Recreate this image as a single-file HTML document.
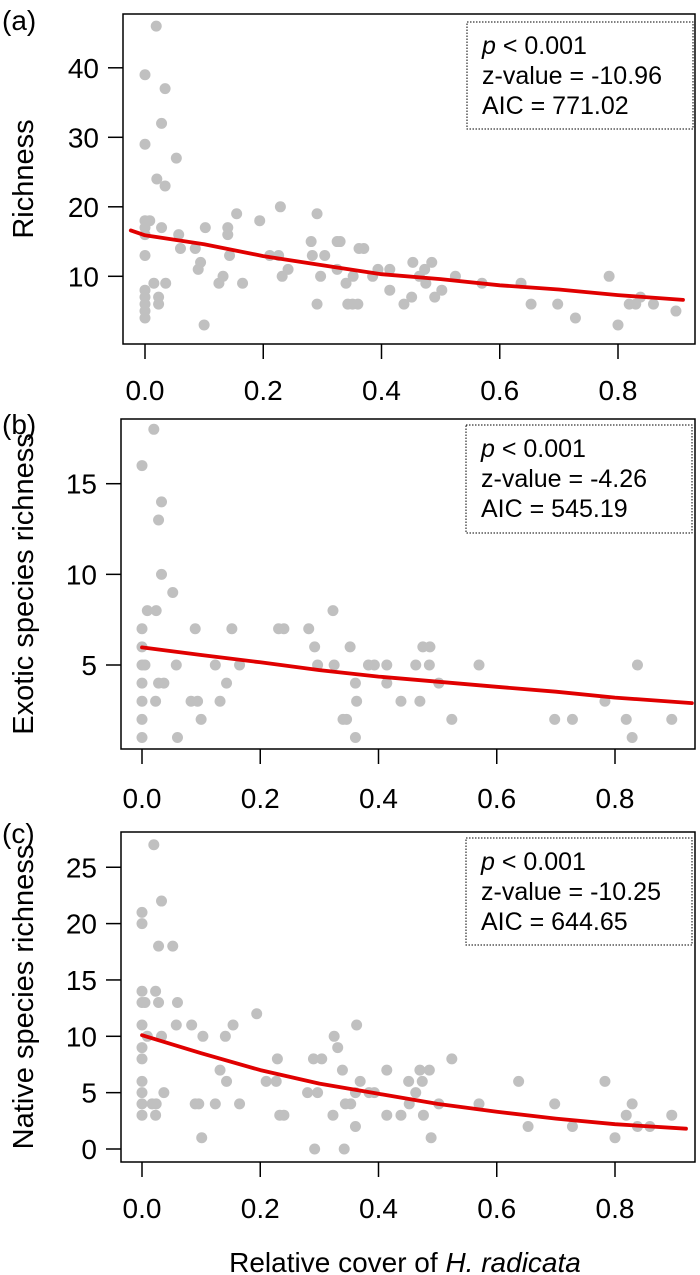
<!DOCTYPE html>
<html><head><meta charset="utf-8"><style>
html,body{margin:0;padding:0;background:#fff;}
svg{display:block;font-family:"Liberation Sans",Arial,sans-serif;}
</style></head><body>
<svg id="fig" width="700" height="1275" viewBox="0 0 700 1275"></svg>
<script>
// Panel (a) Richness
const ax = [0,0,0,0,0,0,0,0,0,0,0,0.019,0.008,0.034,0.028,0.028,0.053,0.02,0.034,0.015,0.023,0.023,0.035,0.057,0.06,0.085,0.094,0.09,0.102,0.1,0.125,0.132,0.14,0.14,0.143,0.155,0.165,0.194,0.211,0.229,0.226,0.232,0.242,0.281,0.283,0.291,0.291,0.297,0.304,0.325,0.33,0.325,0.34,0.343,0.352,0.351,0.36,0.362,0.37,0.385,0.394,0.414,0.414,0.438,0.453,0.451,0.464,0.473,0.475,0.485,0.49,0.502,0.525,0.57,0.636,0.653,0.698,0.728,0.785,0.8,0.819,0.83,0.838,0.86,0.898];
const ay = [39,29,18,17,16,13,8,7,6,5,4,46,18,37,32,17,27,24,23,9,7,6,9,16,14,14,12,11,17,3,9,10,17,16,13,19,9,18,13,20,13,10,11,15,13,19,6,10,13,15,15,11,9,6,10,6,6,14,14,10,11,11,8,6,12,7,10,11,9,12,7,8,10,9,9,6,6,4,10,3,6,6,7,6,5];
const aLineX = [-0.024,0,0.1,0.2,0.3,0.4,0.5,0.6,0.7,0.8,0.91];
const aLineY = [16.6,15.9,14.6,12.9,11.6,10.3,9.6,8.7,8.1,7.3,6.6];
const aTicks = [10,20,30,40];
// Panel (b) Exotic
const bx = [0,0,0,0,0,0,0,0,0.005,0.02,0.009,0.024,0.028,0.033,0.033,0.052,0.028,0.037,0.023,0.058,0.06,0.083,0.09,0.094,0.1,0.124,0.132,0.143,0.152,0.165,0.231,0.24,0.282,0.292,0.297,0.323,0.325,0.34,0.346,0.352,0.361,0.363,0.361,0.383,0.393,0.414,0.414,0.438,0.463,0.47,0.475,0.487,0.486,0.502,0.524,0.57,0.698,0.728,0.783,0.819,0.829,0.838,0.896];
const by = [16,7,6,5,4,3,2,1,5,18,8,8,13,14,10,9,4,4,3,5,1,3,7,3,2,5,3,4,7,5,7,7,7,6,5,8,5,2,2,6,4,3,1,5,5,5,4,3,5,3,6,6,5,4,2,5,2,2,3,2,1,5,2];
const bLineX = [0,0.1,0.2,0.3,0.4,0.5,0.6,0.7,0.8,0.93];
const bLineY = [5.97,5.55,5.15,4.72,4.36,4.08,3.8,3.53,3.2,2.9];
const bTicks = [5,10,15];
// Panel (c) Native
const cx = [0,0,0,0,0,0,0,0,0,0,0,0.005,0.009,0.02,0.023,0.028,0.028,0.033,0.033,0.017,0.024,0.023,0.037,0.052,0.06,0.058,0.084,0.09,0.096,0.103,0.101,0.124,0.132,0.141,0.143,0.154,0.165,0.194,0.21,0.227,0.229,0.233,0.24,0.28,0.29,0.297,0.304,0.292,0.323,0.325,0.331,0.339,0.344,0.353,0.361,0.361,0.363,0.369,0.342,0.384,0.393,0.414,0.414,0.438,0.451,0.452,0.463,0.47,0.474,0.476,0.486,0.489,0.502,0.524,0.57,0.637,0.653,0.698,0.728,0.783,0.8,0.819,0.829,0.838,0.859,0.896];
const cy = [21,20,14,13,11,9,8,6,5,4,3,13,10,27,14,13,18,22,10,4,4,3,5,18,13,11,11,4,4,10,1,4,7,10,6,11,4,12,6,6,8,3,3,5,8,5,8,0,3,10,9,7,4,4,5,2,11,6,0,5,5,7,3,3,6,4,5,7,6,3,7,1,4,8,4,6,2,4,2,6,1,3,4,2,2,3];
const cLineX = [0,0.1,0.2,0.3,0.4,0.5,0.6,0.7,0.8,0.92];
const cLineY = [10.1,8.5,7.0,5.8,4.9,4.0,3.3,2.7,2.2,1.8];
const cTicks = [0,5,10,15,20,25];
const xTicks = [0,0.2,0.4,0.6,0.8];
const xTickLabels = ["0.0","0.2","0.4","0.6","0.8"];

const NS="http://www.w3.org/2000/svg";
const svg=document.getElementById('fig');
function mk(tag,attrs,parent){const e=document.createElementNS(NS,tag);for(const k in attrs)e.setAttribute(k,attrs[k]);(parent||svg).appendChild(e);return e;}

const panels=[
 {id:'a',label:'(a)',lx:2,ly:30,box:[123,14,695,344],x0:145,yf:v=>276.3-(v-10)*6.95,xs:ax,ys:ay,lxs:aLineX,lys:aLineY,ticks:aTicks,title:'Richness',leg:[467,22,693,129],stats:['z-value = -10.96','AIC = 771.02'],tl:390},
 {id:'b',label:'(b)',lx:2,ly:434,box:[121,419,695,749],x0:142,yf:v=>665-(v-5)*18.13,xs:bx,ys:by,lxs:bLineX,lys:bLineY,ticks:bTicks,title:'Exotic species richness',leg:[466,425,692,533],stats:['z-value = -4.26','AIC = 545.19'],tl:798},
 {id:'c',label:'(c)',lx:2,ly:843,box:[121,832,695,1162],x0:142,yf:v=>1149-v*11.27,xs:cx,ys:cy,lxs:cLineX,lys:cLineY,ticks:cTicks,title:'Native species richness',leg:[466,838,692,945],stats:['z-value = -10.25','AIC = 644.65'],tl:1208}
];
panels.forEach(p=>{
 const g=mk('g',{});
 
 
 const xf=v=>p.x0+v*591.25;
 const [l,t,r,b]=p.box;
 const pl=mk('text',{x:p.lx,y:p.ly,'font-size':28},g);pl.textContent=p.label;
 
 
 const pg=mk('g',{fill:'#c0c0c0'},g);
 
 
 p.xs.forEach((xv,i)=>{const c=mk('circle',{cx:xf(xv),cy:p.yf(p.ys[i]),r:5.5},pg);
  
  });
 const d=p.lxs.map((xv,i)=>(i?'L':'M')+xf(xv).toFixed(1)+','+p.yf(p.lys[i]).toFixed(1)).join(' ');
 const ln=mk('path',{d:d,fill:'none',stroke:'#e00000','stroke-width':3.8,'stroke-linejoin':'round','stroke-linecap':'round'},g);
 
 
 const bx_=mk('rect',{x:l,y:t,width:r-l,height:b-t,fill:'none',stroke:'#000','stroke-width':1.5},g);
 
 
 p.ticks.forEach(v=>{const y=p.yf(v);
  mk('line',{x1:l-15,x2:l,y1:y,y2:y,stroke:'#000','stroke-width':1.5},g);
  const tx=mk('text',{x:l-24,y:y+10,'font-size':28,'text-anchor':'end'},g);tx.textContent=v;
  
  });
 xTicks.forEach((v,i)=>{const x=xf(v);
  mk('line',{x1:x,x2:x,y1:b,y2:b+15,stroke:'#000','stroke-width':1.5},g);
  const tx=mk('text',{x:x,y:p.tl+10,'font-size':28,'text-anchor':'middle'},g);tx.textContent=xTickLabels[i];
  
  });
 const cyy=(t+b)/2;
 const yt=mk('text',{x:0,y:0,'font-size':29,'text-anchor':'middle',transform:`translate(33,${cyy}) rotate(-90)`},g);yt.textContent=p.title;
 
 
 const [ll,lt,lr,lb]=p.leg;
 const lg=mk('g',{},g);
 
 
 mk('rect',{x:ll,y:lt,width:lr-ll,height:lb-lt,fill:'#fff',stroke:'#000','stroke-width':1,'stroke-dasharray':'1.5,1.5'},lg);
 const t1=mk('text',{x:ll+15,y:lt+32,'font-size':25},lg);
 t1.innerHTML='<tspan font-style="italic">p</tspan> &lt; 0.001';
 p.stats.forEach((s,i)=>{const tt=mk('text',{x:ll+15,y:lt+62+30*i,'font-size':25},lg);tt.textContent=s;});
});
const xl=mk('text',{x:405,y:1272,'font-size':28,'text-anchor':'middle'});
xl.innerHTML='Relative cover of <tspan font-style="italic">H. radicata</tspan>';


</script>
</body></html>
